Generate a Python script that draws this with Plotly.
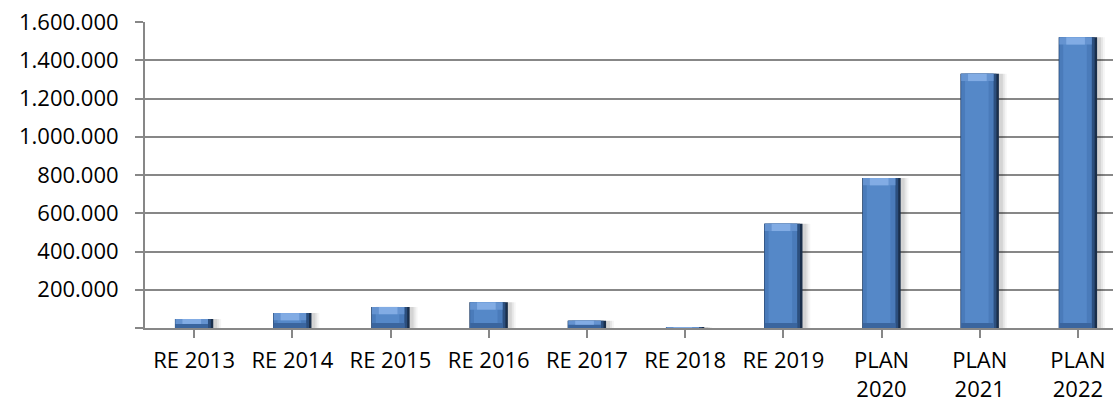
import plotly.graph_objects as go

# Categories and values
categories = ["RE 2013", "RE 2014", "RE 2015", "RE 2016", "RE 2017",
              "RE 2018", "RE 2019", "PLAN 2020", "PLAN 2021", "PLAN 2022"]
values = [47000, 78000, 110000, 134000, 38000,
          5000, 545000, 784000, 1329000, 1520000]

y_tick_values = [0, 200000, 400000, 600000, 800000, 1000000, 1200000, 1400000, 1600000]
y_tick_labels = ["", "200.000", "400.000", "600.000", "800.000",
                 "1.000.000", "1.200.000", "1.400.000", "1.600.000"]

x_labels = [c.replace("PLAN ", "PLAN<br>") for c in categories]
xpos = list(range(len(categories)))

BAR_W = 0.39
BAR_OFF = -BAR_W / 2
CAP = 38000  # height of the bevel bands, in data units

fig = go.Figure()

# soft drop shadow to the right of each bar
for w, a in [(0.46, 0.04), (0.44, 0.06), (0.42, 0.08)]:
    fig.add_trace(go.Bar(x=xpos, y=values, width=w, offset=BAR_OFF + 0.01,
                         marker=dict(color=f"rgba(0,0,0,{a})", line=dict(width=0)),
                         hoverinfo="skip", showlegend=False))

# dark body (forms the shaded right edge)
fig.add_trace(go.Bar(x=xpos, y=values, width=BAR_W, offset=BAR_OFF,
                     marker=dict(color="#1A2F4B", line=dict(width=0)),
                     hoverinfo="skip", showlegend=False))
fig.add_trace(go.Bar(x=xpos, y=values, width=BAR_W - 0.025, offset=BAR_OFF,
                     marker=dict(color="#2C4F7E", line=dict(width=0)),
                     hoverinfo="skip", showlegend=False))
# main face
fig.add_trace(go.Bar(x=xpos, y=values, width=BAR_W - 0.06, offset=BAR_OFF + 0.006,
                     marker=dict(color="#4A7BBA", line=dict(width=0)),
                     name="Wert", showlegend=False))
# lighter centre strip
fig.add_trace(go.Bar(x=xpos, y=values, width=BAR_W - 0.15, offset=BAR_OFF + 0.045,
                     marker=dict(color="#5588C8", line=dict(width=0)),
                     hoverinfo="skip", showlegend=False))
# darker bottom bevel
bottom = [min(v, CAP * 0.7) for v in values]
fig.add_trace(go.Bar(x=xpos, y=bottom, width=BAR_W - 0.06, offset=BAR_OFF + 0.006,
                     marker=dict(color="#3A659E", line=dict(width=0)),
                     hoverinfo="skip", showlegend=False))
# light top bevel
top_base = [max(v - CAP, v * 0.45) for v in values]
top_h = [v - b for v, b in zip(values, top_base)]
fig.add_trace(go.Bar(x=xpos, y=top_h, base=top_base, width=BAR_W - 0.06, offset=BAR_OFF + 0.006,
                     marker=dict(color="#6593D0", line=dict(width=0)),
                     hoverinfo="skip", showlegend=False))
fig.add_trace(go.Bar(x=xpos, y=top_h, base=top_base, width=BAR_W - 0.2, offset=BAR_OFF + 0.076,
                     marker=dict(color="#82ACE4", line=dict(width=0)),
                     hoverinfo="skip", showlegend=False))

FONT = "Open Sans, Lato, sans-serif"
GRID = "#878787"

fig.update_layout(
    width=1113, height=405,
    margin=dict(l=145, r=0, t=22, b=77),
    paper_bgcolor="white", plot_bgcolor="white",
    barmode="overlay",
    font=dict(family=FONT, size=22, color="#000000"),
    xaxis=dict(
        tickmode="array", tickvals=xpos, ticktext=x_labels,
        range=[-0.5, 9.357], automargin=False,
        showline=True, linecolor=GRID, linewidth=2,
        ticks="outside", tickson="boundaries", ticklen=8, tickwidth=2, tickcolor=GRID,
        ticklabelstandoff=4,
        showgrid=False, zeroline=False,
        tickfont=dict(family=FONT, size=22, color="#000000"),
    ),
    yaxis=dict(
        range=[0, 1600000], automargin=False,
        tickmode="array", tickvals=y_tick_values, ticktext=y_tick_labels,
        showline=True, linecolor=GRID, linewidth=2,
        ticks="outside", ticklen=8, tickwidth=2, tickcolor=GRID,
        ticklabelstandoff=12,
        showgrid=True, gridcolor=GRID, gridwidth=2,
        zeroline=False,
        tickfont=dict(family=FONT, size=22, color="#000000"),
    ),
)

fig.write_html("out.html")
